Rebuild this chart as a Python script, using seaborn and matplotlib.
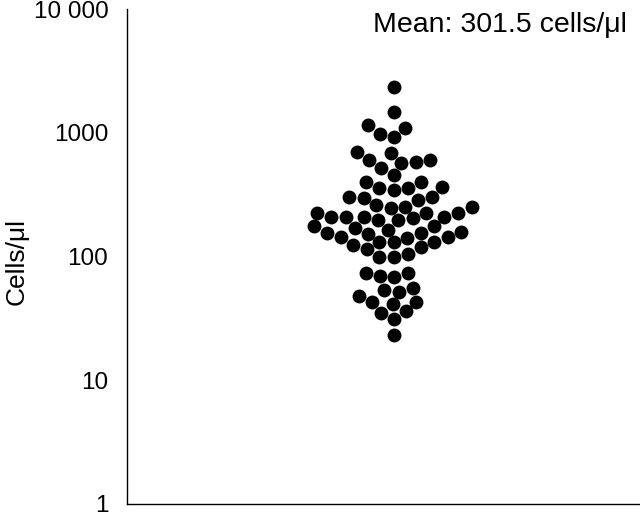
import matplotlib
matplotlib.use("Agg")
import matplotlib.pyplot as plt
from matplotlib.ticker import NullLocator
import seaborn as sns
import pandas as pd

# Cell counts (cells/µl)
cells = [
    226,
    226,
    203, 159, 130,
    403, 305, 248, 199, 156, 123, 73,
    982, 606, 522, 360, 305, 253, 210, 175, 145, 120, 100, 68, 54, 43, 35,
    2350, 1477, 1161, 929, 703, 584, 459, 360, 299, 253, 210, 171, 142, 114, 105,
    69, 52, 41, 31, 23,
    1097, 690, 573, 403, 347, 288, 210, 175, 145, 100, 74, 56, 48, 36,
    606, 367, 263, 199, 165, 130, 43,
    210, 156, 132,
    226, 153,
]
tick_values = [1, 10, 100, 1000, 10000]
tick_labels = ["1", "10", "100", "1000", "10 000"]
y_label = "Cells/μl"
mean_text = "Mean: 301.5 cells/μl"

sns.set_style("white")
plt.rcParams["font.family"] = ["Liberation Sans", "DejaVu Sans"]

df = pd.DataFrame({"cells": cells})

fig = plt.figure(figsize=(6.4, 5.13), dpi=100)
ax = fig.add_axes([127 / 640, 9 / 513, 513 / 640, 495 / 513])

sns.swarmplot(data=df, y="cells", log_scale=True, color="black",
              size=10, linewidth=0, ax=ax)

ax.set_ylim(1, 10000)
ax.set_xlim(-0.52, 0.48)
ax.set_yticks(tick_values)
ax.set_yticklabels(tick_labels)
ax.yaxis.set_minor_locator(NullLocator())
ax.set_xticks([])
ax.set_xlabel("")
ax.tick_params(axis="y", direction="in", length=14.4, width=1.0,
               pad=13.5, labelsize=17.5, color="black", labelcolor="black")

for side in ["top", "right"]:
    ax.spines[side].set_visible(False)
for side in ["left", "bottom"]:
    ax.spines[side].set_color("black")
    ax.spines[side].set_linewidth(1.0)

ax.set_ylabel(y_label, fontsize=19, color="black")
ax.yaxis.set_label_coords(-0.192, 0.49)

fig.text(627 / 640, (513 - 32) / 513, mean_text, ha="right", va="baseline",
         fontsize=20.5, color="black")

fig.savefig("out.png", dpi=100)
